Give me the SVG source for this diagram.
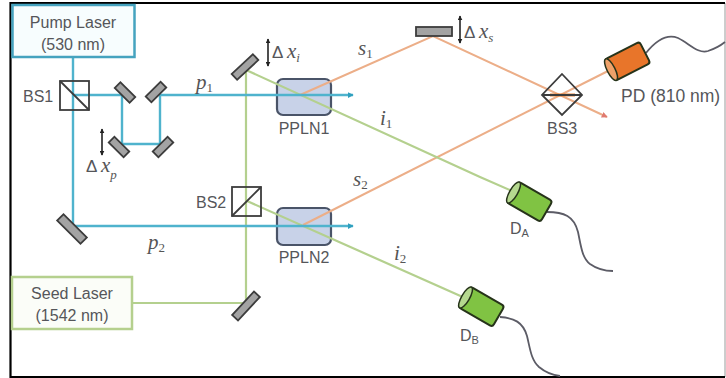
<svg xmlns="http://www.w3.org/2000/svg" width="726" height="378" viewBox="0 0 726 378">
<style>
text{font-family:"Liberation Sans",Arial,sans-serif;fill:#55565a}
.lb{font-size:16px}
.m{font-family:"Liberation Serif","Times New Roman",serif;font-style:italic;font-size:21px;fill:#555}
.sub{font-size:13px}
.up{font-style:normal}
.sm{font-size:11px}
.delta{font-size:17px}
.blue{fill:none;stroke:#4fb3cd;stroke-width:2.400}
.green{fill:none;stroke:#b4d08e;stroke-width:2.200}
.orange{fill:none;stroke:#ecae88;stroke-width:2}
.mirror{fill:#a3a3a3;stroke:#3c3c3c;stroke-width:1.800}
.bs{fill:none;stroke:#3c3c3c;stroke-width:1.800}
.xtal{fill:#c8d2e8;stroke:#4a5468;stroke-width:2.200}
.dbl{stroke:#222;stroke-width:1.600;marker-start:url(#h);marker-end:url(#h)}
.wire{fill:none;stroke:#5c5c66;stroke-width:1.800}
.gbody{fill:#80c343;stroke:#26331a;stroke-width:2}
.cap{fill:#b5d88f;stroke:#26331a;stroke-width:1.500}
</style>
<defs>
<marker id="h" viewBox="0 0 8 8" refX="7" refY="4" markerWidth="5" markerHeight="5" orient="auto-start-reverse" markerUnits="userSpaceOnUse"><path d="M0 0L8 4L0 8z" fill="#222"/></marker>
<marker id="ab" viewBox="0 0 8 8" refX="7" refY="4" markerWidth="6" markerHeight="6" orient="auto" markerUnits="userSpaceOnUse"><path d="M0 0L8 4L0 8z" fill="#2f9fbe"/></marker>
<marker id="ao" viewBox="0 0 8 8" refX="7" refY="4" markerWidth="6" markerHeight="6" orient="auto" markerUnits="userSpaceOnUse"><path d="M0 0L8 4L0 8z" fill="#e07a70"/></marker>
</defs>
<rect width="726" height="378" fill="#fff"/>
<path d="M725 3V377" stroke="#9a9a9a" stroke-width="1" fill="none"/>
<path d="M725 3H10.500V377H725" fill="none" stroke="#000" stroke-width="2.200"/>
<g id="ppln1"><rect class="xtal" x="277" y="79" width="54" height="36" rx="6"/><text class="lb" x="304" y="134" text-anchor="middle">PPLN1</text></g>
<g id="ppln2"><rect class="xtal" x="277" y="208" width="54" height="37" rx="6"/><text class="lb" x="304" y="263" text-anchor="middle">PPLN2</text></g>
<g id="connectors">
<path class="orange" d="M300 95L433 36L607 117" marker-end="url(#ao)"/>
<path class="orange" d="M303 225L608 71"/>
<path class="green" d="M132 303H246V70L480 177L512 191"/>
<path class="green" d="M247 201L465 298"/>
<path class="blue" d="M73 57V226H353" marker-end="url(#ab)"/>
<path class="blue" d="M73 95H122V144H160V95H353" marker-end="url(#ab)"/>
<path d="M550 95H575" stroke="#e8853d" stroke-width="3"/>
<path class="wire" d="M646 53C658 38 668 34 678 38C690 44 698 54 708 51C714 49 720 46 725 42"/>
<path class="wire" d="M547 212C564 212 574 216 578 232C581 246 582 258 590 264C597 269 605 271 613 271"/>
<path class="wire" d="M500 317C514 318 523 322 527 336C530 348 531 360 539 367C545 372 552 375 560 376"/>
</g>
<g id="pump-laser"><rect x="12.500" y="5" width="122" height="52" fill="#f7fdfe" stroke="#45a3bf" stroke-width="2.500"/><text class="lb" x="73" y="28" text-anchor="middle">Pump Laser</text><text class="lb" x="73" y="50" text-anchor="middle">(530 nm)</text></g>
<g id="seed-laser"><rect x="12" y="277" width="120" height="52" fill="#fbfdf8" stroke="#b5d08e" stroke-width="2.500"/><text class="lb" x="72" y="299" text-anchor="middle">Seed Laser</text><text class="lb" x="72" y="321" text-anchor="middle">(1542 nm)</text></g>
<g id="bs1"><rect class="bs" x="60" y="81" width="29" height="29"/><path class="bs" d="M60 81L89 110"/><text class="lb" x="23" y="102">BS1</text></g>
<g id="bs2"><rect class="bs" x="232" y="187" width="29" height="29"/><path class="bs" d="M232 216L261 187"/><text class="lb" x="196" y="208">BS2</text></g>
<g id="bs3"><path class="bs" d="M562 74L582 95L562 115L542 95Z M542 95H582"/><text class="lb" x="547" y="134">BS3</text></g>
<g id="mirrors">
<rect class="mirror" x="-10.500" y="-4" width="21" height="8" transform="translate(125 92.500) rotate(45)"/>
<rect class="mirror" x="-10.500" y="-4" width="21" height="8" transform="translate(156 92) rotate(-45)"/>
<rect class="mirror" x="-10.500" y="-4" width="21" height="8" transform="translate(119 147) rotate(45)"/>
<rect class="mirror" x="-10.500" y="-4" width="21" height="8" transform="translate(163 147) rotate(-45)"/>
<rect class="mirror" x="-16.500" y="-4.500" width="33" height="9" transform="translate(72 229) rotate(45)"/>
<rect class="mirror" x="-14.500" y="-4" width="29" height="8" transform="translate(245 67) rotate(-43)"/>
<rect class="mirror" x="-16" y="-4" width="32" height="8" transform="translate(246 306) rotate(-47)"/>
<rect class="mirror" x="416" y="27" width="36" height="9"/>
</g>
<g id="pd"><g transform="translate(628 61) rotate(-27)"><rect class="gbody" style="fill:#e8752a" x="-20" y="-12" width="39" height="24" rx="3"/><ellipse class="cap" style="fill:#efa26a" cx="-19" cy="0" rx="4" ry="12"/></g><text class="lb" style="font-size:17.500px" x="621" y="102">PD (810 nm)</text></g>
<g id="da"><g transform="translate(530 202) rotate(30)"><rect class="gbody" x="-20" y="-12" width="39" height="24" rx="3"/><ellipse class="cap" cx="-19" cy="0" rx="4" ry="12"/></g><text class="lb" x="510" y="234">D<tspan class="sm" dy="3">A</tspan></text></g>
<g id="db"><g transform="translate(482 307) rotate(30)"><rect class="gbody" x="-20" y="-12" width="39" height="24" rx="3"/><ellipse class="cap" cx="-19" cy="0" rx="4" ry="12"/></g><text class="lb" x="460" y="341">D<tspan class="sm" dy="3">B</tspan></text></g>
<g id="labels">
<path class="dbl" d="M102 129V155"/><path class="dbl" d="M268 39V66"/><path class="dbl" d="M460 16V43"/>
<text class="delta" x="86" y="172">Δ</text><text class="m" x="101" y="172">x<tspan class="sub" dy="7">p</tspan></text>
<text class="delta" x="272" y="58">Δ</text><text class="m" x="287" y="58">x<tspan class="sub" dy="4">i</tspan></text>
<text class="delta" x="464" y="38">Δ</text><text class="m" x="479" y="38">x<tspan class="sub" dy="4">s</tspan></text>
<text class="m" x="196" y="89">p<tspan class="sub up" dy="3">1</tspan></text>
<text class="m" x="148" y="249">p<tspan class="sub up" dy="3">2</tspan></text>
<text class="m" x="358" y="55">s<tspan class="sub up" dy="3">1</tspan></text>
<text class="m" x="353" y="186">s<tspan class="sub up" dy="3">2</tspan></text>
<text class="m" x="380" y="125">i<tspan class="sub up" dy="3">1</tspan></text>
<text class="m" x="394" y="260">i<tspan class="sub up" dy="3">2</tspan></text>
</g>
</svg>
